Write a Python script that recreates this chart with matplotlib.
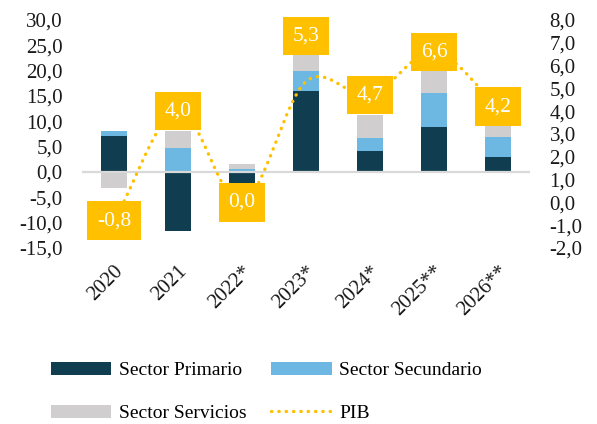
import numpy as np
import matplotlib
matplotlib.use("Agg")
import matplotlib.pyplot as plt
from matplotlib.ticker import FuncFormatter

plt.rcParams['font.family'] = ['Liberation Serif', 'DejaVu Serif']

anios = ["2020", "2021", "2022*", "2023*", "2024*", "2025**", "2026**"]
primario = [7.2, -11.6, -3.0, 16.0, 4.2, 8.8, 2.9]
secundario = [0.8, 4.7, 0.5, 3.9, 2.6, 6.7, 4.1]
servicios = [-3.2, 3.4, 1.1, 4.0, 4.5, 4.7, 2.5]
pib = [-0.8, 4.0, 0.0, 5.3, 4.7, 6.6, 4.2]

c_prim = "#103D4F"
c_sec = "#6CB8E2"
c_serv = "#D0CECE"
c_pib = "#FFC000"


def coma(v, pos=None):
    return f"{v:.1f}".replace(".", ",")


def suavizar(x, y, n=30):
    # curva tipo Catmull-Rom, como la linea suavizada de Excel
    x = np.asarray(x, float)
    y = np.asarray(y, float)
    px = np.concatenate([[2 * x[0] - x[1]], x, [2 * x[-1] - x[-2]]])
    py = np.concatenate([[2 * y[0] - y[1]], y, [2 * y[-1] - y[-2]]])
    xs, ys = [], []
    t = np.linspace(0, 1, n)
    for i in range(1, len(px) - 2):
        for p, out in ((px, xs), (py, ys)):
            p0, p1, p2, p3 = p[i - 1], p[i], p[i + 1], p[i + 2]
            out.extend(0.5 * (2 * p1 + (-p0 + p2) * t
                              + (2 * p0 - 5 * p1 + 4 * p2 - p3) * t ** 2
                              + (-p0 + 3 * p1 - 3 * p2 + p3) * t ** 3))
    return np.array(xs), np.array(ys)


fig = plt.figure(figsize=(5.97, 4.24), dpi=100)
ax = fig.add_axes([82 / 597, 1 - 248 / 424, 448 / 597, 228 / 424])
ax2 = ax.twinx()

x = np.arange(len(anios))
w = 0.4
pos_base = np.zeros(len(x))
neg_base = np.zeros(len(x))
for serie, color, nombre in ((primario, c_prim, "Sector Primario"),
                             (secundario, c_sec, "Sector Secundario"),
                             (servicios, c_serv, "Sector Servicios")):
    v = np.array(serie)
    base = np.where(v >= 0, pos_base, neg_base)
    ax.bar(x, v, w, bottom=base, color=color, label=nombre, zorder=2)
    pos_base = pos_base + np.where(v >= 0, v, 0)
    neg_base = neg_base + np.where(v < 0, v, 0)

ax.axhline(0, color="#D9D9D9", lw=1.6, zorder=3)
ax.set_xlim(-0.5, len(anios) - 0.5)
ax.set_ylim(-15, 30)
ax.set_yticks(np.arange(-15, 31, 5))
ax.yaxis.set_major_formatter(FuncFormatter(coma))
ax.set_xticks(x)
ax.set_xticklabels(anios, rotation=45, ha="right", rotation_mode="anchor")

xs, ys = suavizar(x, pib)
ax2.plot(xs, ys, color=c_pib, lw=2.4, linestyle=(0, (0.1, 2.1)),
         dash_capstyle="round", label="PIB", zorder=3)
ax2.set_ylim(-2, 8)
ax2.set_yticks(np.arange(-2, 9, 1))
ax2.yaxis.set_major_formatter(FuncFormatter(coma))

desplaz = [0, 0, 0, 33, 0, 0, 0]
for xi, v, d in zip(x, pib, desplaz):
    ax2.annotate(coma(v), (xi, v), xytext=(0, d), textcoords="offset points",
                 ha="center", va="center", color="white", fontsize=15.5,
                 bbox=dict(boxstyle="square,pad=0.45", fc=c_pib, ec="none"),
                 zorder=5)

for a in (ax, ax2):
    for s in a.spines.values():
        s.set_visible(False)
    a.tick_params(length=0, labelsize=15, colors="#1A1A1A")
ax.tick_params(axis="y", pad=14)
ax2.tick_params(axis="y", pad=14)
ax.tick_params(axis="x", pad=10)

h1, l1 = ax.get_legend_handles_labels()
h2, l2 = ax2.get_legend_handles_labels()
# orden por columnas para que las filas queden como en el original
handles = [h1[0], h1[2], h1[1], h2[0]]
labels = [l1[0], l1[2], l1[1], l2[0]]
fig.legend(handles, labels, ncol=2, loc="upper left",
           bbox_to_anchor=(51 / 597, 1 - 362 / 424), frameon=False,
           fontsize=14, handlelength=3.1, handleheight=0.65,
           handletextpad=0.4, columnspacing=1.27, labelspacing=1.3,
           borderpad=0, borderaxespad=0)

fig.savefig("out.png", dpi=100)
